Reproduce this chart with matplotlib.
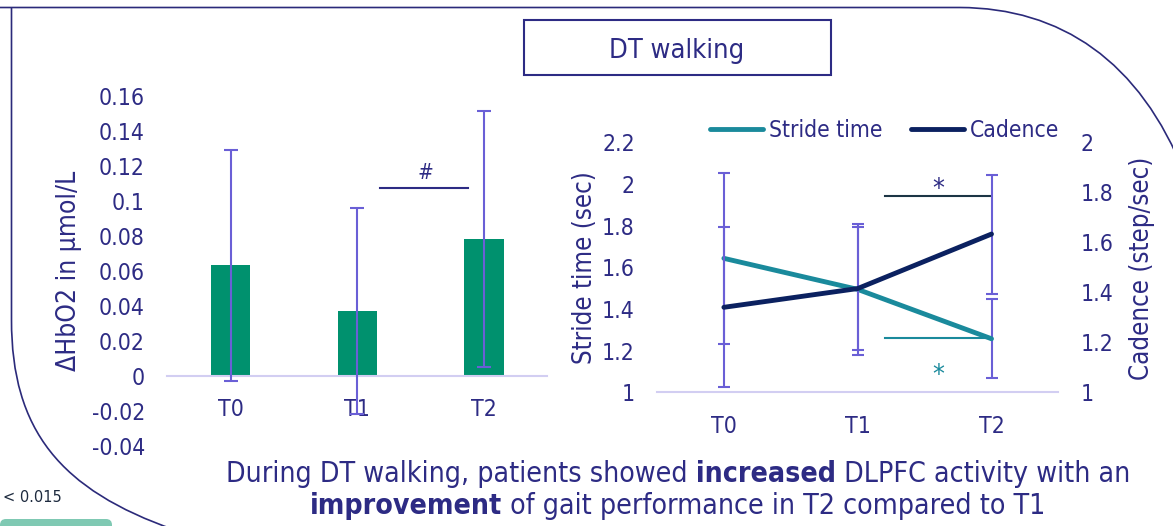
import matplotlib
matplotlib.use("Agg")
import matplotlib.pyplot as plt
from matplotlib.path import Path
from matplotlib.patches import PathPatch, Rectangle, FancyBboxPatch
from matplotlib.ticker import FixedLocator, FormatStrFormatter

plt.rcParams['font.family'] = 'DejaVu Sans'
plt.rcParams['font.stretch'] = 'condensed'

# data
times = ['T0', 'T1', 'T2']
hbo2 = [0.063, 0.037, 0.078]
hbo2_err = [0.066, 0.059, 0.073]
stride = [1.643, 1.494, 1.257]
stride_err = [0.41, 0.315, 0.19]
cadence = [1.34, 1.415, 1.633]
cadence_err = [0.32, 0.245, 0.238]
hbo2_ticks = [-0.04, -0.02, 0, 0.02, 0.04, 0.06, 0.08, 0.1, 0.12, 0.14, 0.16]
stride_ticks = [1, 1.2, 1.4, 1.6, 1.8, 2, 2.2]
cadence_ticks = [1, 1.2, 1.4, 1.6, 1.8, 2]

INK = '#2D2B84'
GREEN = '#00916E'
ERR = '#6A5FD6'
TEAL = '#1A8A9C'
NAVY = '#0B2160'
BASE = '#D2CEF2'

W, H = 1173, 526
fig = plt.figure(figsize=(W / 100, H / 100), dpi=100)

# overlay in pixel units for the slide decoration
ov = fig.add_axes([0, 0, 1, 1], zorder=-5)
ov.set_xlim(0, W)
ov.set_ylim(H, 0)
ov.axis('off')

left_border = Path([(11.5, 8), (11.5, 320), (11.5, 430), (60, 490), (175, 530)],
                   [Path.MOVETO, Path.LINETO, Path.CURVE4, Path.CURVE4, Path.CURVE4])
right_border = Path([(0, 7.5), (960, 7.5), (1060, 8), (1140, 60), (1185, 175)],
                    [Path.MOVETO, Path.LINETO, Path.CURVE4, Path.CURVE4, Path.CURVE4])
for p in (left_border, right_border):
    ov.add_patch(PathPatch(p, fill=False, edgecolor='#2B2A7A', lw=1.2))

ov.add_patch(FancyBboxPatch((0, 519), 112, 20, boxstyle='round,pad=0,rounding_size=6',
                            facecolor='#7FC9B3', edgecolor='none'))
ov.text(3, 497, '< 0.015', fontsize=11.7, color='#1E2B3F', va='center', ha='left')

ov.add_patch(Rectangle((524, 19.7), 306.7, 55.3, fill=False, edgecolor=INK, lw=1.5))
ov.text(677, 58.3, 'DT walking', fontsize=19.5, color=INK, ha='center', va='baseline')


def rich_line(parts, xc, y, size):
    renderer = fig.canvas.get_renderer()
    objs, widths = [], []
    for s, weight in parts:
        t = ov.text(0, y, s, fontsize=size, fontweight=weight, color=INK,
                    ha='left', va='baseline')
        objs.append(t)
        widths.append(t.get_window_extent(renderer).width)
    x = xc - sum(widths) / 2
    for t, w in zip(objs, widths):
        t.set_x(x)
        x += w


rich_line([('During DT walking, patients showed', 'normal'), (' increased', 'bold'),
           (' DLPFC activity with an', 'normal')], 678, 482.5, 20.4)
rich_line([('improvement', 'bold'), (' of gait performance in T2 compared to T1', 'normal')],
          678, 513.5, 20.4)


def style_axis(ax, ticks, fmt):
    for s in ax.spines.values():
        s.set_visible(False)
    ax.patch.set_alpha(0)
    ax.yaxis.set_major_locator(FixedLocator(ticks))
    ax.yaxis.set_major_formatter(FormatStrFormatter(fmt))
    ax.tick_params(axis='both', length=0, labelsize=16.5, labelcolor=INK, pad=16)


# left: HbO2 bars
ax1 = fig.add_axes([167.2 / W, 1 - 445.7 / H, 380.1 / W, 350.1 / H])
x = list(range(len(times)))
ax1.bar(x, hbo2, width=0.31, color=GREEN, zorder=2)
ax1.errorbar(x, hbo2, yerr=hbo2_err, fmt='none', ecolor=ERR, elinewidth=1.5,
             capsize=4.8, capthick=1.5, zorder=3)
ax1.set_xlim(-0.5, 2.5)
ax1.set_ylim(-0.04, 0.16)
style_axis(ax1, hbo2_ticks, '%g')
ax1.spines['bottom'].set_visible(True)
ax1.spines['bottom'].set_position(('data', 0))
ax1.spines['bottom'].set_color(BASE)
ax1.spines['bottom'].set_linewidth(1.5)
ax1.set_xticks(x, times)
ax1.set_ylabel('ΔHbO2 in µmol/L', fontsize=19, color=INK, va='center')
ax1.yaxis.set_label_coords(-0.2586, 0.5)
ax1.plot([1.18, 1.877], [0.1073, 0.1073], color=INK, lw=1.5)
ax1.text(1.54, 0.1158, '#', fontsize=15, color=INK, ha='center', va='center')

# right: gait lines
ax2 = fig.add_axes([657 / W, 1 - 392.3 / H, 401.4 / W, 250 / H])
ax3 = ax2.twinx()
ax2.errorbar(x, stride, yerr=stride_err, fmt='none', ecolor=ERR, elinewidth=1.5,
             capsize=4.2, capthick=1.5, zorder=2)
ax3.errorbar(x, cadence, yerr=cadence_err, fmt='none', ecolor=ERR, elinewidth=1.5,
             capsize=4.2, capthick=1.5, zorder=2)
l1, = ax2.plot(x, stride, color=TEAL, lw=3.5, solid_capstyle='round', zorder=4,
               label='Stride time')
l2, = ax3.plot(x, cadence, color=NAVY, lw=3.5, solid_capstyle='round', zorder=4,
               label='Cadence')
ax2.set_xlim(-0.5, 2.5)
ax2.set_ylim(1, 2.2)
ax3.set_ylim(1, 2)
style_axis(ax2, stride_ticks, '%g')
style_axis(ax3, cadence_ticks, '%g')
ax2.spines['bottom'].set_visible(True)
ax2.spines['bottom'].set_color(BASE)
ax2.spines['bottom'].set_linewidth(1.5)
ax2.set_xticks(x, times)
ax2.set_ylabel('Stride time (sec)', fontsize=18.5, color=INK, va='center')
ax2.yaxis.set_label_coords(-0.1784, 0.5)
ax3.set_ylabel('Cadence (step/sec)', fontsize=18.5, color=INK, va='center', rotation=90)
ax3.yaxis.set_label_coords(1.2095, 0.497)

ax2.plot([1.206, 1.989], [1.942, 1.942], color='#1C3545', lw=1.5)
ax2.text(1.60, 1.970, '*', fontsize=19, color=INK, ha='center', va='center')
ax2.plot([1.206, 1.989], [1.259, 1.259], color=TEAL, lw=1.5)
ax2.text(1.60, 1.078, '*', fontsize=19, color=TEAL, ha='center', va='center')

ax3.legend(handles=[l1, l2], loc='center', bbox_to_anchor=(0.567, 1.049), ncol=2,
           frameon=False, fontsize=16.4, labelcolor=INK, handlelength=2.32,
           handletextpad=0.25, columnspacing=1.28, borderpad=0, borderaxespad=0)

fig.savefig('out.png', dpi=100)
